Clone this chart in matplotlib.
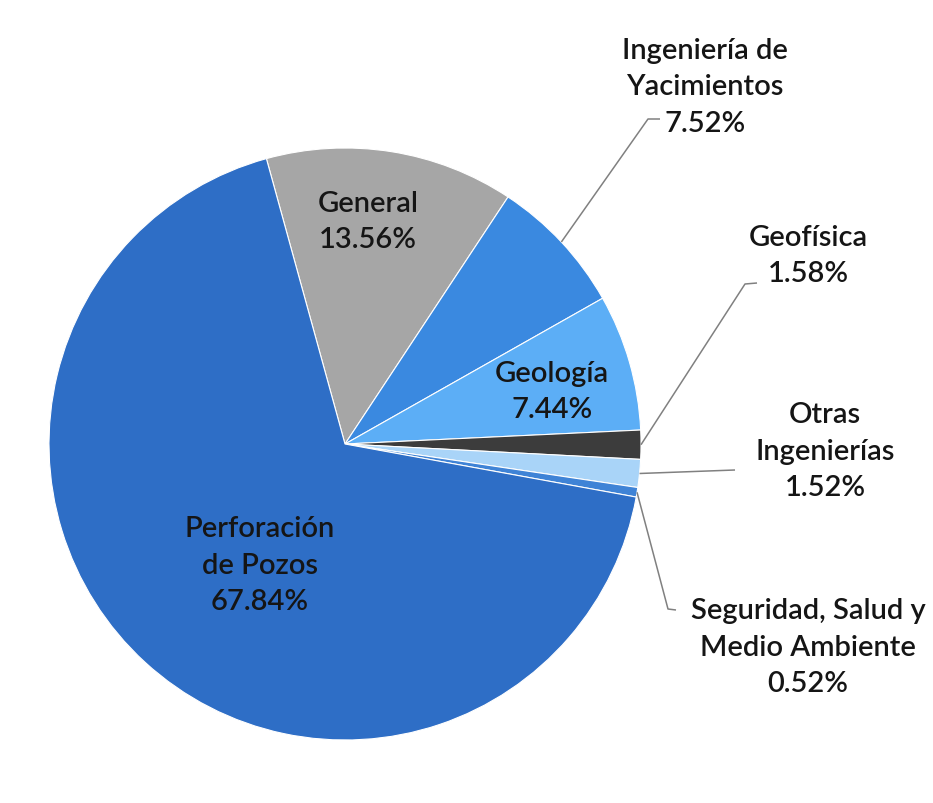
import numpy as np
import matplotlib
matplotlib.use("Agg")
import matplotlib.pyplot as plt

categories = ["General", "Ingeniería de\nYacimientos", "Geología", "Geofísica",
              "Otras\nIngenierías", "Seguridad, Salud y\nMedio Ambiente", "Perforación\nde Pozos"]
values = [13.56, 7.52, 7.44, 1.58, 1.52, 0.52, 67.84]
colors = ["#A6A6A6", "#3A89E0", "#5CAEF6", "#3C3C3C", "#A9D4F8", "#3F83D6", "#2E6EC6"]

W, H = 933, 804
fig = plt.figure(figsize=(W / 100, H / 100), dpi=100)
ax = fig.add_axes([0, 0, 1, 1])

cx, cy, R = 345, H - 445, 296
wedges, _ = ax.pie(values, colors=colors, startangle=105.4, counterclock=False,
                   center=(cx, cy), radius=R, frame=True,
                   wedgeprops=dict(edgecolor="white", linewidth=0.8))
ax.set_xlim(0, W)
ax.set_ylim(0, H)
ax.set_aspect("equal")
ax.axis("off")

font = dict(family="Lato", fontsize=21, color="#151515", weight="semibold",
            ha="center", va="center", linespacing=1.5)

def lbl(i):
    return f"{categories[i]}\n{values[i]:.2f}%"

# inside labels
inside = {0: (368, 222), 2: (552, 392), 6: (260, 566)}
for i, (x, y) in inside.items():
    ax.text(x, H - y, lbl(i), **font)

# outside labels with leader lines (elbow points and text positions in pixels)
outside = {
    1: ((648, 120), (660, 120), (705, 87)),
    3: ((745, 285), (757, 284), (808, 256)),
    4: ((735, 471), (735, 471), (825, 452)),
    5: ((668, 610), (676, 611), (808, 648)),
}
for i, (elbow, end, tpos) in outside.items():
    w = wedges[i]
    mid = np.deg2rad((w.theta1 + w.theta2) / 2)
    sx, sy = cx + R * np.cos(mid), cy + R * np.sin(mid)
    ax.plot([sx, elbow[0], end[0]], [sy, H - elbow[1], H - end[1]],
            color="#808080", lw=1.1, solid_capstyle="butt")
    ax.text(tpos[0], H - tpos[1], lbl(i), **font)

fig.savefig("out.png", dpi=100, facecolor="white")
